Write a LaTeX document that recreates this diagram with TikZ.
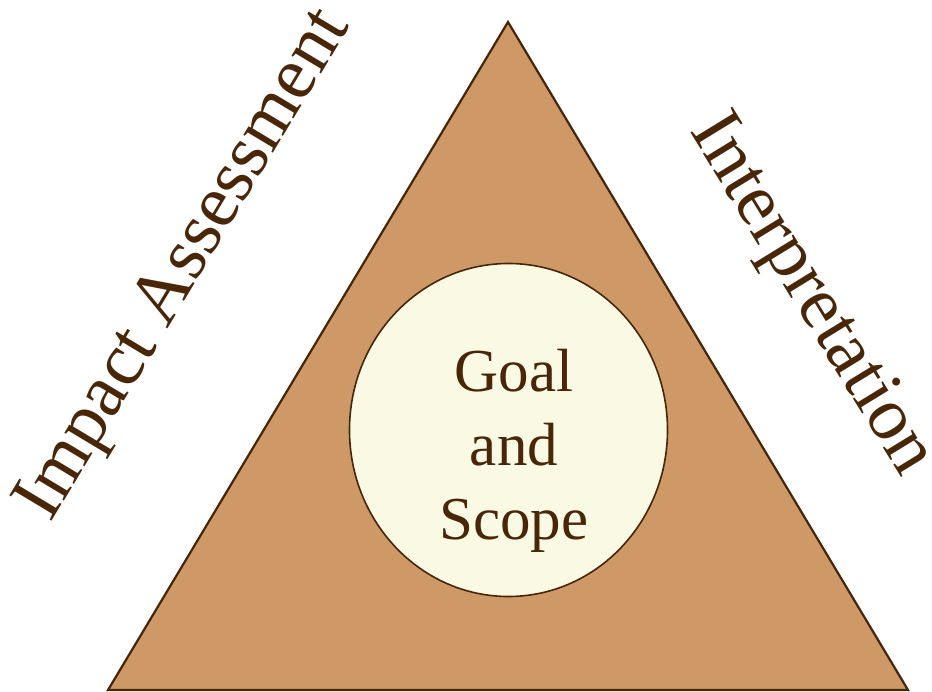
\documentclass[tikz,border=0pt]{standalone}
\usepackage{fontspec}
\setmainfont{Liberation Serif}
\usetikzlibrary{shapes.geometric}
\definecolor{trifill}{HTML}{CE9967}
\definecolor{edge}{HTML}{45260A}
\definecolor{discfill}{HTML}{FAF9E4}
\definecolor{ink}{HTML}{4A2608}
\begin{document}
\begin{tikzpicture}[x=1pt,y=-1pt,
  sidelabel/.style={text=ink,inner sep=0pt,font=\fontsize{75}{80}\selectfont},
  centrelabel/.style={text=ink,inner sep=0pt,align=center,font=\fontsize{61}{74}\selectfont}]
\useasboundingbox (0,0) rectangle (932,692);
\coordinate (apex) at (508,22);
\coordinate (bl) at (108,690);
\coordinate (br) at (908,690);
\draw[fill=trifill,draw=edge,line width=2.2pt,line join=miter] (apex) -- (br) -- (bl) -- cycle;
\node[ellipse,draw=edge,fill=discfill,line width=1.6pt,minimum width=318pt,minimum height=333pt,inner sep=0pt] (disc) at (508.5,430) {};
\node[centrelabel] (goal) at (514,451) {Goal\\and\\Scope};
\node[sidelabel,rotate=59] (impact) at (186,266) {Impact Assessment};
\node[sidelabel,rotate=-58.5] (interp) at (810,296) {Interpretation};
\end{tikzpicture}
\end{document}
